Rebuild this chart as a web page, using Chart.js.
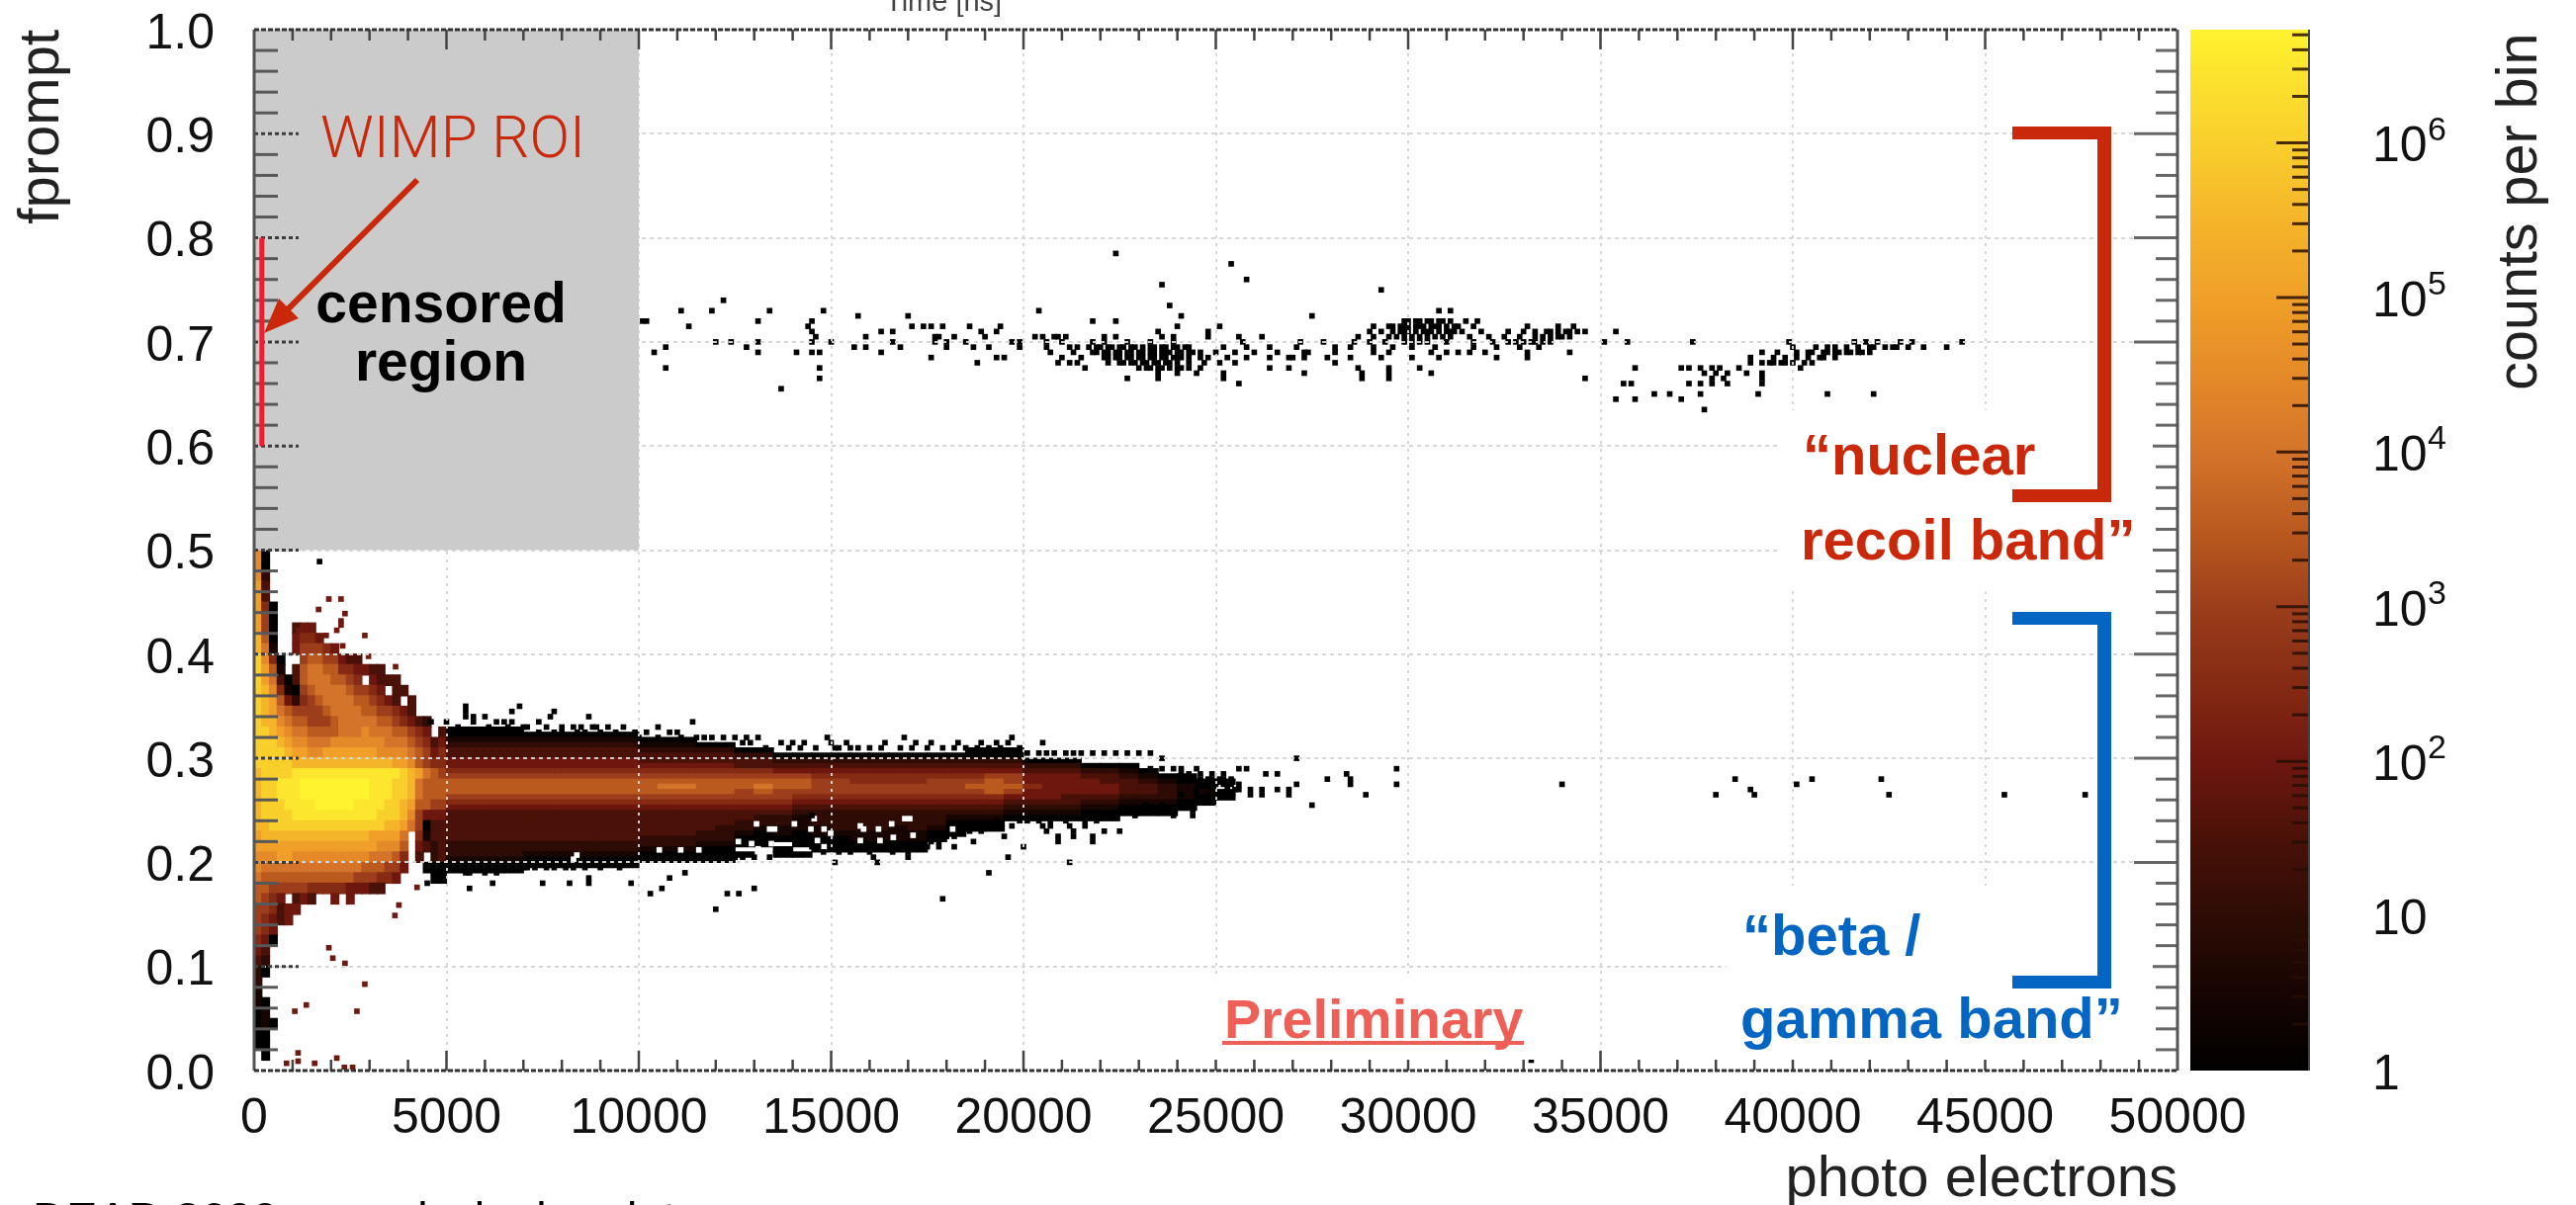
<!DOCTYPE html>
<html><head><meta charset="utf-8">
<style>html,body{margin:0;padding:0;background:#fff;width:2605px;height:1219px;overflow:hidden}
canvas{position:absolute;left:0;top:0;filter:blur(0.7px)}</style>
<script src="https://cdn.jsdelivr.net/npm/chart.js@4"></script></head><body>
<canvas id="main" width="2605" height="1219"></canvas>
<canvas id="bar" width="2605" height="1219"></canvas>
<script>
/* ---------- axis data ---------- */
const xRange=[0,50000], yRange=[0,1];
const censoredX=[0,10000], censoredY=[0.5,1];
const roiX=200, roiY=[0.6,0.8];
const zMax=5.4e6;
const zLog=[0,0.5,1,1.5,2,2.5,3,3.5,4,4.5,5,5.5,6,6.5,6.73];
const zCol=['#000000','#170502','#2e0c05','#4a1108','#6e170f','#852a13','#9c3e1b','#ba5a1f','#d4742a','#e58a28','#f0a028','#f5b52a','#f9cf2c','#fde62e','#fff42f'];
const zTicks=[1,2,3,4,5,6,7,8,9,10,20,30,40,50,60,70,80,90,100,200,300,400,500,600,700,800,900,1000,2000,3000,4000,5000,6000,7000,8000,9000,10000,20000,30000,40000,50000,60000,70000,80000,90000,1e5,2e5,3e5,4e5,5e5,6e5,7e5,8e5,9e5,1e6,2e6,3e6,4e6,5e6];
const zLabels={1:'1',10:'10',100:'10',1000:'10',10000:'10',100000:'10',1000000:'10'};
const zExponents={100:'2',1000:'3',10000:'4',100000:'5',1000000:'6'};
/* low-PE region: x columns 200 PE wide (first centre 100), rows 0.01 tall from 0.50 down.
   each char = half-decades of counts per bin (0=1, 2=10, 4=100, ... e=top), '.' = empty */
const lowColW=200, lowRowH=0.01;
const lowRows=["90","90","92","a3","a3","a50","a60","a60..344","b70..4554","b81..466654","c950..67766433","ca71.378877554433","ca830378887765.4333","cb951067888876654.33","cba7425678888776543.3","cba876666788887766543","cbb98776667888887765432","ccba9887777888988877654.3","cccba99888999999988876534","ccccbaa99aaaaaaa999987645","cccccbbbbbbbbbbbbbaa97655","bccccddddddddddddddcba8766","bccdddeeeeeeeeedddccb8777","bccdddeeeeeeeeedddccb8777","bcccddddeeeeeddddccba7766","bccccdddddddddddcccb96444","bbcccccccccccccccbba86033","abbbbbbbbbbbbbbaaaa8.5133","aaaaaaaaaaaaaaaa9997.4323","999aa999999999988875.3.23","98888888888888777664..000","8777777777777666554....00","77666665555544433","7654.343..4.4","665344","65434","654","540","43","32","20","2","1","10","01","010","00","00",".0",""];
/* main band: columns 500 PE wide starting at centre 5250, each string runs downward
   from fprompt 0.345 in 0.005 steps, same level code */
const bandColW=500, bandRowH=0.005, bandTop=0.345, bandFirst=5250;
const bandCols=["...0012334456777654333333222100","...0012334456777654333333222100","...0012334456777654333333222100","...0012334456777654333333222100",
"....01233445677765433333322100","....01233445677765433333322100","....01233445677765433333322100","....01233445677765433333322100","....01233445677765433333322100","....01233445677765433333322100",
".....012334567776543333322100",".....012334567876543333322100",".....012334567876543333322100","......02334567776543333221000","......02334567776543332221000",".......0233567766543322100.0",".......0233567876543221000","........02346776654322110.00","........023467765432111000.0","........0234566654322211000","........0234566654322221000","........0234556654322221100","........0234556654322221100","........0234556654322211100","........0234556654322221100","........02345666543222100","........0234566654321000",".......0023456765432100",".......0023467775432100",".......00234667643210",
".........023445443210",".........023444443210",".........023444433210","..........02344432100","..........02334432100","..........0123332100","...........012332100","............01222100","............0011100",".............00100",".............0.00"];
/* isolated dark-red single-count bins around the low-PE lobe */
const redX=[1942,2259,1675,2362,2259,2259,2148,1160,1873,2878,2302,2973,3677,4235,3763,3660,1942,2045,2362,2878,1357,1057,2672,1143,1143,842,1572,2148,2345,2560];
const redY=[.453,.453,.443,.439,.432,.428,.423,.423,.418,.418,.408,.398,.388,.176,.159,.149,.118,.108,.103,.083,.063,.057,.057,.017,.009,.007,.007,.012,.003,.003];
/* empty bins inside the band's lower fringe */
const holeX=[13060,13400,13530,14045,14474,14560,11089,11560,10532,12588,12931,13103,13445,8389,8303,15758,15844,16230,15758,14816,14987,17130,16915,17044,16573,16270,16616,18158,14644,14816];
const holeY=[.237,.232,.232,.237,.232,.242,.212,.212,.212,.22,.218,.213,.218,.207,.203,.235,.232,.232,.221,.232,.228,.226,.242,.242,.237,.221,.224,.232,.221,.215];
/* single-count bins around the beta/gamma band: fprompt rows, x in hundreds of PE */
const betaRowY=[.489,.350,.345,.340,.335,.330,.325,.320,.315,.310,.305,.300,.290,.285,.280,.275,.270,.265,.255,.250,.245,.240,.235,.230,.225,.220,.215,.210,.205,.200,.195,.190,.185,.180,.175,.170,.165,.155,.010];
const betaRowX=[[17],[55,69],[55,67,78],[57,60,55,77,87],[46,50,57,67,74,63,65,114],[83,88,89,105,96,70,71,53,61,66,76,80,85,92],[90,94,74,80,78,84,86,99,102,108,110],[122,111,115,105,100,149,169,197,117,119,125,128,131],[140,127,129,196,205,137,143,150,154,164,172,176,183,189,193],[133,146,151,152,155,157,160,168,171,179,185,191,139,142,163,175,182,188,194,199],[201,208,211,215,221,224,230,204,206,213,218,227,233],[271,236],[256,258,297,236,241,245,233,239],[263,266,284,243,246,249,252,241],[248,251,385,405,423,279,285,246,249,252,254],[253,252,340,401,271,285,297,250,254,256],[256,262,266,269,259,389,245,249,253,255],[259,269,262,390,455,425,380,476,289,241,245,248,251],[275,232,236],[244,234,225,229],[239,244,229,145,221,224],[204,211,216,219,199,193,201,207],[188,207,197,205,216,184,191,212],[221,225,189,206,213,184,186],[195,213,209,218,180,182],[187,209,218,176,178],[200,145,162,165,175,178,182,150,153,156,158,168,171],[160,170,148,152,155,166],[170,161,196,100,105,107,112,115,120,121,123,134,101,103,109,111,114,117,119,125,127,130],[151,162,212,92,95,98],[47,53,54,56,58,65,69,71,76,81,86,90,95,50,51,52,55,57,60,62,64,66,68,70,73,78,83],[191,112,55,56,60,63],[108,87],[45,62,75,82,87,98],[56,106,130],[103,123,126],[179],[120],[332]];
/* nuclear-recoil band events: fprompt rows, x in hundreds of PE */
const nrRowY=[.785,.775,.760,.755,.750,.740,.735,.730,.725,.720,.715,.710,.705,.700,.695,.690,.685,.680,.675,.670,.665,.660,.655,.650,.645,.635];
const nrRowX=[[224],[254],[258],[236],[293],[122],[238],[111,119,134,148,204,308,311],[157,170,241,275],[101,102,131,145,218,224,299,300,303,306,309,302,305,308,311,315,318],[113,144,171,174,176,179,186,194,240,251,291,295,299,303,307,310,313,317,331,339,343,296,298,300,302,304,306,308,312],[145,163,166,189,193,235,248,290,293,296,299,302,305,308,311,314,319,326,330,333,336,339,342,346,354,298,300,304,306,310,312,337,341,344],[146,159,177,178,182,190,203,205,208,211,209,221,224,236,239,248,256,262,287,291,295,299,303,307,311,316,321,325,329,333,337,340,297,301,305,309,335,339,342],[120,124,131,145,150,166,177,180,185,197,199,206,210,218,221,227,233,239,257,272,278,286,290,294,299,303,310,317,322,326,330,333,337,351,374,357,428,422,419,416,431,444,399,301,305,328,332,335],[107,128,156,159,168,180,187,191,199,206,212,214,219,222,225,228,233,236,239,242,252,258,264,271,281,285,291,296,301,307,317,323,329,334,400,406,409,421,424,427,434,440,217,220,223,226,229,231,234,237,240,243,411,414,417,420,426,430],[104,131,141,145,147,163,207,213,218,221,224,227,230,233,236,241,246,250,255,260,266,273,274,281,291,295,306,310,313,316,320,331,342,392,396,404,409,412,415,418,219,222,225,228,231,234,237,238,240,243,244,401,405,408,411,414,417,420],[176,193,195,210,215,224,227,230,233,236,239,243,248,253,258,264,269,273,270,279,285,293,301,308,323,331,389,407,411,221,222,225,228,231,234,237,240,241,246,395,398,401,404,408],[188,209,212,214,222,228,231,234,237,243,247,251,255,281,389,394,397,400,403,405,225,226,229,232,235,238,240,392,395,398],[107,147,216,230,233,236,241,246,264,269,287,295,303,359,371,381,386,402,232,235,238,240,243,373,376,379],[235,240,245,252,273,288,295,306,377,380,383,388,392],[147,227,235,252,288,295,346,379,382,392],[256,356,358,373,376,379,383,392],[137],[364,368,376,391,409,421],[354,359,371],[377]];

/* ---------- helpers ---------- */
function hex(c){return [1,3,5].map(i=>parseInt(c.substr(i,2),16));}
function levelColor(L){
  const v=Math.min(L/2,6.73);let i=0;while(i<zLog.length-2&&zLog[i+1]<v)i++;
  const t=(v-zLog[i])/(zLog[i+1]-zLog[i]),a=hex(zCol[i]),b=hex(zCol[i+1]);
  return 'rgb('+a.map((q,k)=>Math.round(q+(b[k]-q)*t)).join(',')+')';
}
const lowCells=[],lowColors=[],bandCells=[],bandColors=[];
lowRows.forEach((row,r)=>{const hi=0.5-r*lowRowH;
  [...row].forEach((ch,c)=>{if(ch==='.')return;
    lowCells.push({x:lowColW*(c+.5),y:[hi-lowRowH,hi]});lowColors.push(levelColor(parseInt(ch,16)));});});
bandCols.forEach((col,c)=>{
  [...col].forEach((ch,k)=>{if(ch==='.')return;const hi=bandTop-k*bandRowH;
    bandCells.push({x:bandFirst+c*bandColW,y:[hi-bandRowH,hi]});bandColors.push(levelColor(parseInt(ch,16)));});});
const toPts=(ys,xs)=>ys.flatMap((y,i)=>xs[i].map(x=>({x:x*100,y})));
const pairPts=(xs,ys)=>xs.map((x,i)=>({x,y:ys[i]}));
const zeroPad=s=>{s.paddingTop=0;s.paddingBottom=0;s.paddingLeft=0;s.paddingRight=0;};

/* ---------- overlay drawn from the chart's scales ---------- */
const mainOverlay={id:'mainOverlay',afterDraw(ch){
  const c=ch.ctx,X=ch.scales.x,Y=ch.scales.y,A=ch.chartArea;
  const px=v=>X.getPixelForValue(v),py=v=>Y.getPixelForValue(v);
  c.save();
  /* censored region */
  c.fillStyle='#cbcbcb';c.fillRect(px(censoredX[0]),py(censoredY[1]),px(censoredX[1])-px(censoredX[0]),py(censoredY[0])-py(censoredY[1]));
  /* ticks pointing inward */
  const isMajY=v=>Math.abs(v*10-Math.round(v*10))<1e-6, isMajX=v=>v%5000===0;
  Y.ticks.forEach(t=>{const y=py(t.value),m=isMajY(t.value);if(t.value<=0||t.value>=1)return;
    c.lineWidth=3;c.strokeStyle=m?'#3c3c3c':'#585858';c.setLineDash(m?[4,3]:[]);
    c.beginPath();c.moveTo(A.left,y);c.lineTo(A.left+(m?45:24),y);c.stroke();
    c.setLineDash([]);c.strokeStyle='#666';
    c.beginPath();c.moveTo(A.right,y);c.lineTo(A.right-(m?44:22),y);c.stroke();});
  X.ticks.forEach(t=>{const x=px(t.value),m=isMajX(t.value);if(t.value<=0||t.value>=50000)return;
    c.lineWidth=2.5;c.strokeStyle='#444';
    c.beginPath();c.moveTo(x,A.top);c.lineTo(x,A.top+(m?20:11));c.moveTo(x,A.bottom);c.lineTo(x,A.bottom-(m?20:11));c.stroke();});
  /* white panels under the slide labels */
  c.fillStyle='#fff';
  c.fillRect(1800,415,377,178);c.fillRect(1746,896,431,176);c.fillRect(1210,986,350,86);
  /* frame */
  c.lineWidth=3;c.strokeStyle='#555';
  c.beginPath();c.moveTo(A.left,A.top);c.lineTo(A.left,A.bottom);c.moveTo(A.right,A.top);c.lineTo(A.right,A.bottom);c.stroke();
  c.strokeStyle='#333';c.setLineDash([5,2]);
  c.beginPath();c.moveTo(A.left,A.top);c.lineTo(A.right,A.top);c.moveTo(A.left,A.bottom);c.lineTo(A.right,A.bottom);c.stroke();
  c.setLineDash([]);
  /* WIMP ROI line */
  c.strokeStyle='#f01c30';c.lineWidth=5;
  c.beginPath();c.moveTo(px(roiX),py(roiY[0]));c.lineTo(px(roiX),py(roiY[1]));c.stroke();
  /* arrow */
  const R='#c9280a',B='#0565c2';
  const ax=422,ay=182,tx=267,ty=337,ang=Math.atan2(ty-ay,tx-ax);
  c.strokeStyle=R;c.lineWidth=6;c.beginPath();c.moveTo(ax,ay);c.lineTo(tx-28*Math.cos(ang),ty-28*Math.sin(ang));c.stroke();
  c.fillStyle=R;c.beginPath();c.moveTo(tx,ty);
  c.lineTo(tx-38*Math.cos(ang-.38),ty-38*Math.sin(ang-.38));c.lineTo(tx-38*Math.cos(ang+.38),ty-38*Math.sin(ang+.38));c.closePath();c.fill();
  /* brackets */
  const bracket=(col,y0,y1)=>{c.fillStyle=col;c.fillRect(2035,y0,100,13);c.fillRect(2121,y0,14,y1-y0);c.fillRect(2035,y1-13,100,13);};
  bracket(R,128,508);bracket(B,619,1000);
  /* labels */
  c.textBaseline='alphabetic';
  const T=(s,x,y,f,col,al)=>{c.font=f;c.fillStyle=col;c.textAlign=al||'left';c.fillText(s,x,y);};
  const F='"Liberation Sans"';
  T('WIMP ROI',324,159,'300 60px Roboto',R);
  T('censored',446,326,'bold 57px '+F,'#000','center');
  T('region',446,385,'bold 57px '+F,'#000','center');
  T('“nuclear',1823,480,'bold 58px '+F,R);
  T('recoil band”',1821,566,'bold 58px '+F,R);
  T('“beta /',1762,966,'bold 58px '+F,B);
  T('gamma band”',1760,1050,'bold 58px '+F,B);
  T('Preliminary',1238,1050,'bold 55.5px '+F,'#ee5f57');
  c.fillStyle='#ee5f57';c.fillRect(1236,1053,305,4);
  T('Time [ns]',895,11,'29px '+F,'#444');
  T('DEAP-3600 commissioning data',33,1249,'47px '+F,'#000');
  c.restore();
}};
new Chart(document.getElementById('main'),{type:'scatter',
  data:{datasets:[
    {type:'bar',order:5,label:'counts, low PE',data:lowCells,backgroundColor:lowColors,barThickness:7.78,grouped:false,inflateAmount:0.6},
    {type:'bar',order:4,label:'counts, band',data:bandCells,backgroundColor:bandColors,barThickness:19.45,grouped:false,inflateAmount:0.6},
    {order:3,label:'empty bins',data:pairPts(holeX,holeY),pointStyle:'rect',pointRadius:4,backgroundColor:'#fff',borderWidth:0},
    {order:2,label:'single-count bins',data:pairPts(redX,redY),pointStyle:'rect',pointRadius:4,backgroundColor:'#6e1a12',borderWidth:0},
    {order:1,label:'beta/gamma single bins',data:toPts(betaRowY,betaRowX),pointStyle:'rect',pointRadius:4,backgroundColor:'#000',borderWidth:0},
    {order:0,label:'nuclear recoil band',data:toPts(nrRowY,nrRowX),pointStyle:'rect',pointRadius:4,backgroundColor:'#000',borderWidth:0}
  ]},
  options:{responsive:false,animation:false,events:[],
    layout:{padding:{left:0,top:30,right:403,bottom:0}},
    plugins:{legend:{display:false},tooltip:{enabled:false}},
    scales:{
      x:{type:'linear',min:xRange[0],max:xRange[1],offset:false,
        afterFit(s){s.height=136;zeroPad(s);},
        grid:{offset:false,z:1,drawTicks:false,lineWidth:2,color:c=>c.tick&&c.tick.value%5000===0?'rgba(214,214,214,.95)':'rgba(0,0,0,0)'},
        border:{display:false,dash:[3,5]},
        ticks:{stepSize:1000,autoSkip:false,maxRotation:0,minRotation:0,padding:19,color:'#111',font:{size:50,family:'"Liberation Sans"'},callback:v=>v%5000===0?String(v):''},
        title:{display:true,text:'photo electrons',align:'end',color:'#222',font:{size:58,family:'"Liberation Sans"',lineHeight:1},padding:{top:0,bottom:-4}}},
      y:{type:'linear',min:yRange[0],max:yRange[1],
        afterFit(s){s.width=257;zeroPad(s);},
        grid:{z:1,drawTicks:false,lineWidth:2,color:c=>c.tick&&Math.abs(c.tick.value*10-Math.round(c.tick.value*10))<1e-6?'rgba(214,214,214,.95)':'rgba(0,0,0,0)'},
        border:{display:false,dash:[4,4]},
        ticks:{stepSize:0.02,autoSkip:false,padding:40,labelOffset:5,color:'#111',font:{size:50,family:'"Liberation Sans"'},callback:v=>Math.abs(v*10-Math.round(v*10))<1e-6?v.toFixed(1):''},
        title:{display:true,text:'fprompt',align:'end',color:'#222',font:{size:58,family:'"Liberation Sans"',lineHeight:1},padding:{top:14,bottom:0}}}
    }},
  plugins:[mainOverlay]});

/* ---------- colour bar ---------- */
const barOverlay={id:'barOverlay',afterDraw(ch){
  const c=ch.ctx,Y=ch.scales.y,A=ch.chartArea;c.save();
  Y.ticks.forEach(t=>{const y=Y.getPixelForValue(t.value);if(t.value<=1)return;
    const m=zLabels[t.value]!==undefined;
    c.strokeStyle='rgba(40,14,4,.85)';c.lineWidth=3;c.beginPath();c.moveTo(A.right,y);c.lineTo(A.right-(m?33:17),y);c.stroke();
    if(zExponents[t.value]){c.font='34px "Liberation Sans"';c.fillStyle='#111';c.textAlign='left';c.textBaseline='alphabetic';c.fillText(zExponents[t.value],A.right+64+56,y-3);}
  });
  c.strokeStyle='#444';c.lineWidth=2;c.beginPath();c.moveTo(A.right,A.top);c.lineTo(A.right,A.bottom);c.stroke();
  c.translate(2565,33.6);c.rotate(-Math.PI/2);c.font='57.5px "Liberation Sans"';c.fillStyle='#222';c.textAlign='right';c.textBaseline='alphabetic';
  c.fillText('counts per bin',0,0);
  c.restore();
}};
new Chart(document.getElementById('bar'),{type:'bar',
  data:{labels:['counts per bin'],datasets:[{data:[[1,zMax]],barPercentage:1,categoryPercentage:1,inflateAmount:0,
    backgroundColor(ctx){const ch=ctx.chart,a=ch.chartArea;if(!a)return '#000';
      const g=ch.ctx.createLinearGradient(0,a.bottom,0,a.top);
      zLog.forEach((l,i)=>g.addColorStop(l/zLog[zLog.length-1],zCol[i]));return g;}}]},
  options:{responsive:false,animation:false,events:[],
    layout:{padding:{left:2215,top:30,right:0,bottom:136}},
    plugins:{legend:{display:false},tooltip:{enabled:false}},
    scales:{
      x:{display:false,offset:true,grid:{display:false}},
      y:{type:'logarithmic',position:'right',min:1,max:zMax,
        afterFit(s){s.width=270;zeroPad(s);},
        afterBuildTicks(s){s.ticks=zTicks.map(v=>({value:v,major:zLabels[v]!==undefined}));},
        grid:{display:false,drawTicks:false},border:{display:false},
        ticks:{autoSkip:false,padding:64,labelOffset:5,color:'#111',font:{size:50,family:'"Liberation Sans"'},callback:v=>zLabels[v]||''}}
    }},
  plugins:[barOverlay]});
</script></body></html>
